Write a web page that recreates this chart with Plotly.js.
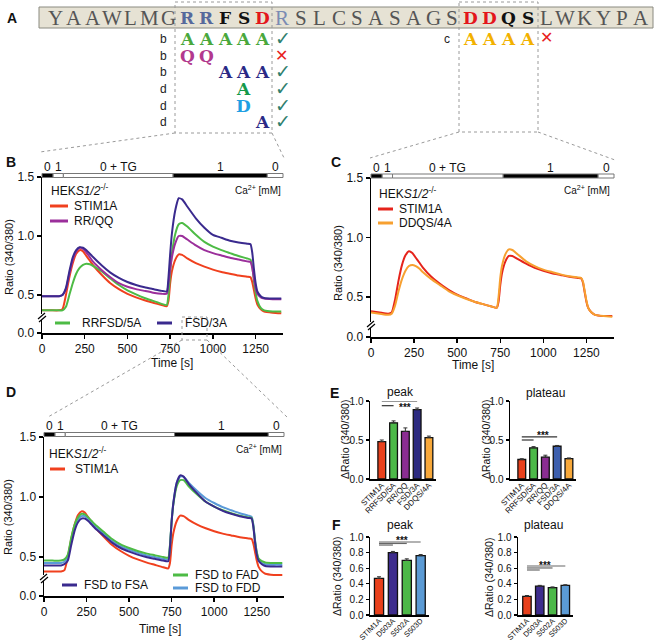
<!DOCTYPE html>
<html>
<head>
<meta charset="utf-8">
<script src="https://cdn.plot.ly/plotly-3.0.1.min.js"></script>
<style>html,body{margin:0;padding:0;background:#fff}#fig{width:659px;height:643px}</style>
</head>
<body>
<div id="fig"></div>
<script>
// ---------- data ----------
const seq = 'YAAWLMGRRFSDRSLCSASAGSDDQSLWKYPA'.split('');
const mutTag = ['b', 'b', 'b', 'd', 'd', 'd', 'c'];
const mutStart = [7, 7, 9, 10, 10, 11, 22];
const mutText = ['AAAAA', 'QQ', 'AAA', 'A', 'D', 'A', 'AAAA'];
const mutOk = [true, false, true, true, true, true, false];

const caBreaks = [0, 65, 125, 767, 1318, 1410];
const caLabels = ['0', '1', '0 + TG', '1', '0'];

const time = [0, 50, 100, 120, 140, 160, 180, 200, 220, 240, 260, 280, 300, 350, 400, 450, 500, 550, 600, 650, 700, 730, 740, 750, 760, 780, 800, 820, 850, 900, 950, 1000, 1050, 1100, 1150, 1200, 1220, 1230, 1240, 1250, 1260, 1280, 1300, 1350, 1400];

// panel B
const bStim = [0.37, 0.37, 0.37, 0.38, 0.50, 0.65, 0.77, 0.85, 0.88, 0.87, 0.83, 0.79, 0.75, 0.67, 0.60, 0.55, 0.51, 0.48, 0.455, 0.435, 0.415, 0.405, 0.45, 0.60, 0.70, 0.80, 0.845, 0.84, 0.81, 0.77, 0.74, 0.715, 0.695, 0.68, 0.665, 0.655, 0.65, 0.61, 0.54, 0.47, 0.42, 0.38, 0.36, 0.35, 0.345];
const bFive = [0.37, 0.37, 0.37, 0.37, 0.40, 0.50, 0.60, 0.68, 0.73, 0.755, 0.765, 0.76, 0.745, 0.70, 0.64, 0.585, 0.54, 0.505, 0.475, 0.45, 0.425, 0.415, 0.50, 0.70, 0.85, 1.02, 1.10, 1.11, 1.08, 1.01, 0.95, 0.91, 0.88, 0.855, 0.83, 0.81, 0.80, 0.74, 0.62, 0.52, 0.45, 0.39, 0.37, 0.36, 0.36];
const bRRQQ = [0.49, 0.49, 0.49, 0.50, 0.55, 0.68, 0.80, 0.87, 0.90, 0.89, 0.86, 0.82, 0.78, 0.71, 0.65, 0.60, 0.57, 0.55, 0.535, 0.52, 0.51, 0.51, 0.60, 0.72, 0.82, 0.94, 1.00, 1.00, 0.97, 0.92, 0.88, 0.855, 0.835, 0.815, 0.80, 0.785, 0.78, 0.73, 0.64, 0.56, 0.51, 0.48, 0.47, 0.465, 0.465];
const bFSD = [0.49, 0.49, 0.49, 0.50, 0.56, 0.70, 0.82, 0.88, 0.905, 0.90, 0.88, 0.85, 0.82, 0.75, 0.69, 0.645, 0.61, 0.585, 0.565, 0.55, 0.535, 0.53, 0.65, 0.85, 1.02, 1.22, 1.32, 1.31, 1.25, 1.15, 1.07, 1.01, 0.985, 0.96, 0.945, 0.935, 0.93, 0.86, 0.72, 0.60, 0.53, 0.49, 0.475, 0.47, 0.47];

// panel C
const cStim = [0.38, 0.37, 0.36, 0.37, 0.48, 0.64, 0.77, 0.85, 0.885, 0.87, 0.83, 0.79, 0.75, 0.67, 0.61, 0.56, 0.52, 0.49, 0.46, 0.44, 0.42, 0.41, 0.46, 0.60, 0.70, 0.80, 0.845, 0.845, 0.82, 0.78, 0.745, 0.72, 0.70, 0.685, 0.67, 0.66, 0.655, 0.62, 0.54, 0.46, 0.41, 0.37, 0.35, 0.34, 0.34];
const cDDQS = [0.37, 0.36, 0.35, 0.36, 0.43, 0.55, 0.65, 0.72, 0.76, 0.77, 0.76, 0.74, 0.71, 0.65, 0.60, 0.55, 0.515, 0.485, 0.46, 0.44, 0.42, 0.41, 0.50, 0.66, 0.76, 0.86, 0.90, 0.895, 0.86, 0.80, 0.76, 0.73, 0.71, 0.69, 0.675, 0.665, 0.66, 0.63, 0.55, 0.47, 0.41, 0.37, 0.35, 0.34, 0.335];

// panel D
const dStim = [0.38, 0.38, 0.38, 0.39, 0.50, 0.65, 0.77, 0.85, 0.88, 0.87, 0.83, 0.79, 0.75, 0.67, 0.60, 0.55, 0.51, 0.48, 0.455, 0.435, 0.415, 0.405, 0.45, 0.60, 0.70, 0.80, 0.845, 0.84, 0.81, 0.77, 0.74, 0.715, 0.695, 0.68, 0.665, 0.655, 0.65, 0.61, 0.54, 0.47, 0.42, 0.38, 0.36, 0.35, 0.35];
const dFDD = [0.45, 0.45, 0.45, 0.46, 0.50, 0.63, 0.75, 0.81, 0.84, 0.84, 0.815, 0.785, 0.755, 0.695, 0.635, 0.59, 0.56, 0.535, 0.515, 0.50, 0.485, 0.48, 0.59, 0.80, 0.95, 1.12, 1.17, 1.17, 1.12, 1.05, 0.99, 0.95, 0.915, 0.89, 0.865, 0.845, 0.835, 0.77, 0.64, 0.54, 0.48, 0.45, 0.44, 0.435, 0.435];
const dFAD = [0.47, 0.47, 0.47, 0.48, 0.52, 0.66, 0.77, 0.83, 0.86, 0.855, 0.83, 0.80, 0.77, 0.71, 0.65, 0.605, 0.575, 0.55, 0.53, 0.515, 0.50, 0.495, 0.60, 0.80, 0.94, 1.09, 1.14, 1.14, 1.09, 1.02, 0.96, 0.92, 0.89, 0.865, 0.845, 0.83, 0.825, 0.76, 0.63, 0.54, 0.49, 0.465, 0.455, 0.45, 0.45];
const dFSA = [0.43, 0.43, 0.43, 0.44, 0.47, 0.60, 0.72, 0.79, 0.82, 0.82, 0.80, 0.77, 0.74, 0.68, 0.62, 0.575, 0.545, 0.52, 0.50, 0.485, 0.47, 0.465, 0.58, 0.80, 0.95, 1.12, 1.18, 1.17, 1.11, 1.03, 0.96, 0.92, 0.885, 0.86, 0.84, 0.825, 0.82, 0.75, 0.62, 0.52, 0.47, 0.44, 0.425, 0.42, 0.42];

// panels E, F
const eCats = ['STIM1A', 'RRFSD/5A', 'RR/QQ', 'FSD/3A', 'DDQS/4A'];
const ePeak = [0.48, 0.72, 0.61, 0.89, 0.53];
const ePeakErr = [0.02, 0.025, 0.045, 0.02, 0.02];
const ePlat = [0.25, 0.40, 0.28, 0.42, 0.26];
const ePlatErr = [0.01, 0.015, 0.025, 0.01, 0.01];
const fCats = ['STIM1A', 'D503A', 'S502A', 'S503D'];
const fPeak = [0.47, 0.80, 0.70, 0.76];
const fPeakErr = [0.02, 0.015, 0.02, 0.015];
const fPlat = [0.24, 0.37, 0.35, 0.38];
const fPlatErr = [0.01, 0.01, 0.01, 0.008];

// ---------- helpers (pixel -> paper) ----------
const W = 659, H = 643;
const px = v => v / W;
const py = v => 1 - v / H;
const FONT = 'Liberation Sans, Arial, sans-serif';
const NARROW = 'Liberation Sans Narrow, Arial Narrow, Liberation Sans, Arial, sans-serif';

const shapes = [];
const annotations = [];

function seg(x0, y0, x1, y1, color, width, dash) {
    shapes.push({type: 'line', xref: 'paper', yref: 'paper', x0: px(x0), y0: py(y0), x1: px(x1), y1: py(y1),
        line: {color: color, width: width, dash: dash || 'solid'}});
}
function rect(x0, y0, x1, y1, fill, lineColor, width, dash) {
    shapes.push({type: 'rect', xref: 'paper', yref: 'paper', x0: px(x0), y0: py(y0), x1: px(x1), y1: py(y1),
        fillcolor: fill, line: {color: lineColor, width: width, dash: dash || 'solid'}});
}
function label(x, y, t, font, xanchor, angle) {
    annotations.push({xref: 'paper', yref: 'paper', x: px(x), y: py(y), text: t, showarrow: false,
        xanchor: xanchor || 'center', yanchor: 'middle', textangle: angle || 0,
        font: Object.assign({family: FONT, size: 12, color: '#111'}, font || {})});
}

// ---------- panel A ----------
const colX = i => 55 + 18.9 * i;
rect(39, 7, 653, 28, '#e6e2d4', '#8a8a80', 1);
const hl = {7: '#56699c', 8: '#56699c', 9: '#111', 10: '#111', 11: '#e3161b',
            22: '#e3161b', 23: '#e3161b', 24: '#111', 25: '#111'};
seq.forEach((s, i) => {
    if (hl[i]) {
        label(colX(i), 18, '<b>' + s + '</b>', {family: 'DejaVu Serif', size: 17, color: hl[i]});
    } else {
        label(colX(i), 18, s, {family: 'Liberation Serif', size: 21, color: i === 12 ? '#7b8bb3' : '#555'});
    }
});
const rowY = [39, 56, 72, 89, 106, 122, 39];
const mutColor = ['#4aa83c', '#b2398e', '#2b2a86', '#14994a', '#1fa0e3', '#2b2a86', '#f2b100'];
mutText.forEach((t, r) => {
    t.split('').forEach((c, k) => {
        label(colX(mutStart[r] + k), rowY[r], '<b>' + c + '</b>', {family: 'DejaVu Serif', size: 17, color: mutColor[r]});
    });
    const grp = mutTag[r] === 'c' ? 22 : 7;
    const endCol = mutTag[r] === 'c' ? 26 : 12;
    label(colX(grp) - 24, rowY[r], mutTag[r], {size: 12, color: '#222'});
    if (mutOk[r]) label(colX(endCol) + 1, rowY[r] - 1, '\u2713', {family: 'DejaVu Sans', size: 19, color: '#2f7f6e'});
    else label(colX(endCol), rowY[r] - 1, '\u2715', {family: 'DejaVu Sans', size: 16, color: '#e8201c'});
});
label(12, 18, '<b>A</b>', {size: 14});

// zoom boxes and connecting dotted lines
const dotC = '#9a9a9a';
rect(175, 2, 272, 133, 'rgba(0,0,0,0)', dotC, 1, 'dot');
rect(459, 2, 538, 132, 'rgba(0,0,0,0)', dotC, 1, 'dot');
seg(175, 133, 40, 152, dotC, 1, 'dot');
seg(272, 133, 285, 160, dotC, 1, 'dot');
seg(459, 132, 370, 158, dotC, 1, 'dot');
seg(538, 132, 615, 160, dotC, 1, 'dot');
rect(182, 317, 207, 340, 'rgba(0,0,0,0)', dotC, 1, 'dot');
seg(182, 340, 48, 417, dotC, 1, 'dot');
seg(207, 340, 287, 417, dotC, 1, 'dot');

// ---------- time-course panels ----------
const RED = '#f0401e', CRED = '#e5231b', ORANGE = '#f7a030', GREEN = '#4dbb45',
      PURPLE = '#9b2f9b', NAVY = '#3a2a8e', LBLUE = '#5a9ad8';
const TMAX = 1410;

function timeX(d0, d1, yId) {
    return {domain: [px(d0), px(d1)], range: [0, TMAX], anchor: yId, showline: true, linecolor: '#000', linewidth: 1.5,
        ticks: 'outside', ticklen: 4, tickwidth: 1.5, tickcolor: '#000', tickvals: [0, 250, 500, 750, 1000, 1250],
        showgrid: false, zeroline: false, tickfont: {family: FONT, size: 12, color: '#111'}};
}
function timeY(top, bottom, low, xId) {
    return {domain: [py(bottom), py(top)], range: [low, 1.5], anchor: xId, showline: true, linecolor: '#000', linewidth: 1.5,
        ticks: 'outside', ticklen: 4, tickwidth: 1.5, tickcolor: '#000', tickvals: [low, 0.5, 1.0, 1.5],
        ticktext: ['0.0', '0.5', '1.0', '1.5'], showgrid: false, zeroline: false,
        tickfont: {family: FONT, size: 12, color: '#111'}};
}

// calcium protocol bar, placed in pixels from the axis span
function caBar(left, right, top, labelY) {
    const fills = ['#000', '#fff', '#fff', '#000', '#fff'];
    const tx = t => left + (right - left) * t / TMAX;
    caLabels.forEach((lab, i) => {
        rect(tx(caBreaks[i]), top, tx(caBreaks[i + 1]), top + 4, fills[i], '#777', 1);
        label((tx(caBreaks[i]) + tx(caBreaks[i + 1])) / 2, labelY, lab, {size: 12});
    });
}
function axisBreak(x, y) {
    rect(x - 4, y - 4, x + 4, y + 2, '#fff', 'rgba(0,0,0,0)', 0);
    seg(x - 4, y + 1, x + 3, y - 5, '#000', 1.2);
    seg(x - 3, y + 4, x + 4, y - 2, '#000', 1.2);
}

const traces = [];
function curve(y, color, xa, ya) {
    traces.push({type: 'scatter', mode: 'lines', x: time, y: y, xaxis: xa, yaxis: ya,
        line: {color: color, width: 2, shape: 'spline', smoothing: 0.5}, hoverinfo: 'skip'});
}
curve(bStim, RED, 'x', 'y');
curve(bFive, GREEN, 'x', 'y');
curve(bRRQQ, PURPLE, 'x', 'y');
curve(bFSD, NAVY, 'x', 'y');
curve(cStim, CRED, 'x2', 'y2');
curve(cDDQS, ORANGE, 'x2', 'y2');
curve(dStim, RED, 'x3', 'y3');
curve(dFDD, LBLUE, 'x3', 'y3');
curve(dFAD, GREEN, 'x3', 'y3');
curve(dFSA, NAVY, 'x3', 'y3');

caBar(42, 283, 173.5, 167);
caBar(371, 614, 174, 167.5);
caBar(44, 284, 432.5, 426);
axisBreak(42, 318);
axisBreak(371, 326);
axisBreak(44, 579);

const hek = 'HEK<i>S1/2</i><sup>-/-</sup>';
const ca = 'Ca<sup>2+</sup> [mM]';
// B
label(11, 162, '<b>B</b>', {size: 14});
label(49, 190, hek, {}, 'left');
label(283, 190, ca, {size: 10}, 'right');
seg(50, 206, 68, 206, RED, 3); label(72, 206, 'STIM1A', {}, 'left');
seg(50, 221, 68, 221, PURPLE, 3); label(72, 221, 'RR/QQ', {}, 'left');
seg(55, 323, 70, 323, GREEN, 3); label(80, 323, 'RRFSD/5A', {}, 'left');
seg(157, 323, 172, 323, NAVY, 3); label(183, 323, 'FSD/3A', {}, 'left');
label(9, 257, 'Ratio (340/380)', {size: 11}, 'center', -90);
label(172, 363, 'Time [s]');
// C
label(336, 162, '<b>C</b>', {size: 14});
label(377, 193, hek, {}, 'left');
label(612, 190, ca, {size: 10}, 'right');
seg(378, 209, 393, 209, CRED, 3); label(397, 209, 'STIM1A', {}, 'left');
seg(378, 223, 393, 223, ORANGE, 3); label(397, 223, 'DDQS/4A', {}, 'left');
label(338, 263, 'Ratio (340/380)', {size: 11}, 'center', -90);
label(473, 365, 'Time [s]');
// D
label(11, 392, '<b>D</b>', {size: 14});
label(47, 453, hek, {}, 'left');
label(284, 449, ca, {size: 10}, 'right');
seg(50, 469, 65, 469, RED, 3); label(73, 469, 'STIM1A', {}, 'left');
seg(62, 585, 77, 585, NAVY, 3); label(82, 585, 'FSD to FSA', {}, 'left');
seg(173, 575, 188, 575, GREEN, 3); label(193, 575, 'FSD to FAD', {}, 'left');
seg(173, 588, 188, 588, LBLUE, 3); label(193, 588, 'FSD to FDD', {}, 'left');
label(8, 517, 'Ratio (340/380)', {size: 11}, 'center', -90);
label(160, 629, 'Time [s]');

// ---------- bar panels ----------
function barX(d0, d1, r, yId, size) {
    return {type: 'category', domain: [px(d0), px(d1)], range: r, anchor: yId, showline: true, linecolor: '#000',
        linewidth: 1.5, ticks: '', tickangle: -45, showgrid: false, zeroline: false, ticklabelstandoff: -3,
        tickfont: {family: NARROW, size: size, color: '#111'}};
}
function barY(top, bottom, vals, xId) {
    return {domain: [py(bottom), py(top)], range: [0, 1.0], anchor: xId, showline: true, linecolor: '#000',
        linewidth: 1.5, ticks: 'outside', ticklen: 3, tickwidth: 1.2, tickcolor: '#000', tickvals: vals,
        ticktext: vals.map(v => v.toFixed(1)), showgrid: false, zeroline: false,
        tickfont: {family: NARROW, size: 10, color: '#111'}};
}
function bars(cats, vals, errs, colors, xa, ya) {
    traces.push({type: 'bar', x: cats, y: vals, xaxis: xa, yaxis: ya, width: 0.66,
        marker: {color: colors, line: {color: '#111', width: 1.3}},
        error_y: {type: 'data', array: errs, arrayminus: errs.map(() => 0), color: '#333', thickness: 1, width: 2},
        hoverinfo: 'skip'});
}
bars(eCats, ePeak, ePeakErr, ['#e8401c', '#4cb848', '#8b2d92', '#2c2a80', '#f7a83a'], 'x4', 'y4');
bars(eCats, ePlat, ePlatErr, ['#e8401c', '#4cb848', '#8b2d92', '#3d5fae', '#f7a83a'], 'x5', 'y5');
bars(fCats, fPeak, fPeakErr, ['#e8401c', '#3d2c8d', '#4cb848', '#5b9bd5'], 'x6', 'y6');
bars(fCats, fPlat, fPlatErr, ['#e8401c', '#3d2c8d', '#4cb848', '#5b9bd5'], 'x7', 'y7');

function sig(xa, ya, pairs, levels, color, starX, starY) {
    pairs.forEach((p, i) => {
        shapes.push({type: 'line', xref: xa, yref: ya, x0: 0, x1: p, y0: levels[i], y1: levels[i],
            line: {color: color, width: 1.2}});
    });
    annotations.push({xref: xa, yref: ya, x: starX, y: starY, text: '<b>***</b>', showarrow: false,
        yanchor: 'middle', font: {family: FONT, size: 10, color: '#111'}});
}
sig('x4', 'y4', [3, 1], [1.0, 0.94], '#333', 2.0, 0.92);
sig('x5', 'y5', [3, 1], [0.54, 0.50], '#333', 1.8, 0.56);
sig('x6', 'y6', [3, 2, 1], [0.936, 0.917, 0.897], '#666', 1.67, 0.95);
sig('x7', 'y7', [3, 2, 1], [0.628, 0.603, 0.577], '#666', 1.4, 0.64);

const dR = '\u0394Ratio (340/380)';
label(334, 393, '<b>E</b>', {size: 14});
label(400, 392, 'peak');
label(545, 393, 'plateau');
label(345, 440, dR, {family: NARROW, size: 10.5}, 'center', -90);
label(486, 440, dR, {family: NARROW, size: 10.5}, 'center', -90);
label(336, 525, '<b>F</b>', {size: 14});
label(400, 525, 'peak');
label(543, 525, 'plateau');
label(337, 577, dR, {family: NARROW, size: 10.5}, 'center', -90);
label(489, 577, dR, {family: NARROW, size: 10.5}, 'center', -90);

const layout = {
    width: W, height: H, margin: {l: 0, r: 0, t: 0, b: 0},
    paper_bgcolor: '#fff', plot_bgcolor: 'rgba(0,0,0,0)',
    showlegend: false, hovermode: false,
    font: {family: FONT, size: 12, color: '#111'},
    xaxis: timeX(42, 283, 'y'),
    yaxis: timeY(177, 333, 0.178, 'x'),
    xaxis2: timeX(371, 614, 'y2'),
    yaxis2: timeY(178, 337, 0.164, 'x2'),
    xaxis3: timeX(44, 284, 'y3'),
    yaxis3: timeY(437, 596, 0.175, 'x3'),
    xaxis4: barX(370, 436, [-1.0, 4.6], 'y4', 8),
    yaxis4: barY(401, 479, [0, 0.5, 1.0], 'x4'),
    xaxis5: barX(510, 576, [-1.0, 4.6], 'y5', 8),
    yaxis5: barY(401, 479, [0, 0.5, 1.0], 'x5'),
    xaxis6: barX(370, 429, [-0.65, 3.6], 'y6', 7.5),
    yaxis6: barY(537, 615, [0, 0.2, 0.4, 0.6, 0.8, 1.0], 'x6'),
    xaxis7: barX(518, 573, [-0.7, 3.6], 'y7', 7.5),
    yaxis7: barY(537, 615, [0, 0.2, 0.4, 0.6, 0.8, 1.0], 'x7'),
    shapes: shapes,
    annotations: annotations
};

Plotly.newPlot('fig', traces, layout, {staticPlot: true, displayModeBar: false});
</script>
</body>
</html>
